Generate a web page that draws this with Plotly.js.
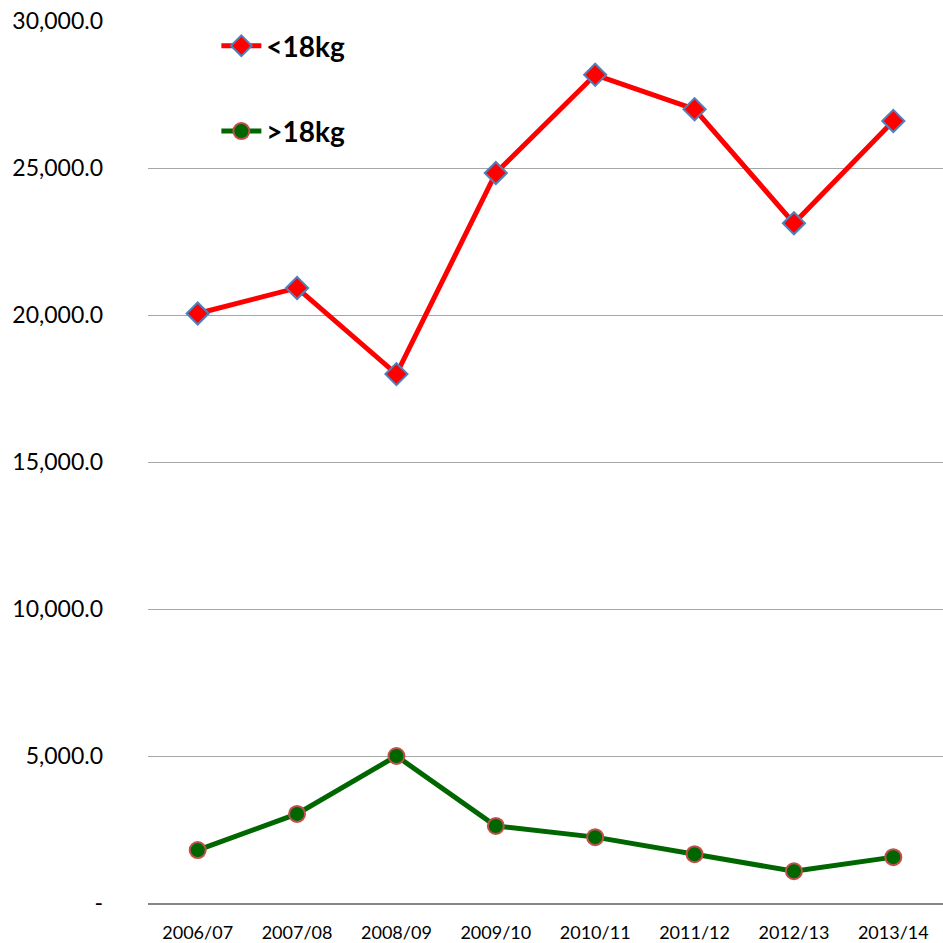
<!DOCTYPE html>
<html>
<head>
<meta charset="utf-8">
<script src="https://cdn.plot.ly/plotly-3.0.1.min.js"></script>
<style>html,body{margin:0;padding:0;background:#fff;}#chart{width:943px;height:943px;}</style>
</head>
<body>
<div id="chart"></div>
<script>
const categories = ["2006/07","2007/08","2008/09","2009/10","2010/11","2011/12","2012/13","2013/14"];
const under18 = [20050, 20920, 17990, 24830, 28170, 27000, 23120, 26600];
const over18 = [1800, 3030, 5000, 2620, 2240, 1660, 1080, 1560];
const seriesNames = ["<18kg", ">18kg"];
const yTickVals = [0, 5000, 10000, 15000, 20000, 25000, 30000];
const yTickText = ["-", "5,000.0", "10,000.0", "15,000.0", "20,000.0", "25,000.0", "30,000.0"];

const font = "Lato, 'Noto Sans', 'Liberation Sans', sans-serif";

const traces = [
  {
    x: categories, y: under18, name: seriesNames[0], type: "scatter", mode: "lines+markers",
    legendgroup: "a",
    line: {color: "#ff0000", width: 5},
    marker: {symbol: "diamond", size: 17, color: "#ff0000", line: {color: "#4f81bd", width: 2}}
  },
  {
    x: categories, y: over18, name: seriesNames[1], type: "scatter", mode: "lines+markers",
    legendgroup: "b",
    line: {color: "#006600", width: 5},
    marker: {symbol: "circle", size: 16, color: "#006600", line: {color: "#c0504d", width: 2}}
  }
];

const layout = {
  width: 943, height: 943,
  margin: {l: 148, r: 0, t: 21, b: 40},
  paper_bgcolor: "#ffffff", plot_bgcolor: "#ffffff",
  font: {family: font, color: "#000000", size: 19},
  showlegend: true,
  legend: {
    x: 0.086, y: 1.0, xanchor: "left", yanchor: "top",
    font: {family: font, size: 28, color: "#000000", weight: "bold"},
    bgcolor: "rgba(0,0,0,0)", tracegroupgap: 46, itemwidth: 40
  },
  xaxis: {
    type: "category", range: [-0.5, 7.5], showgrid: false,
    showline: true, linecolor: "#868686", linewidth: 2,
    ticks: "", tickfont: {family: font, size: 18}, zeroline: false,
    ticklabelstandoff: 12
  },
  yaxis: {
    range: [0, 30000], tickvals: yTickVals, ticktext: yTickText,
    showgrid: true, gridcolor: "#a6a6a6", gridwidth: 1,
    showline: false, zeroline: false, ticks: "",
    tickfont: {family: font, size: 23}, ticklabelstandoff: 44
  }
};

Plotly.newPlot("chart", traces, layout, {displayModeBar: false, staticPlot: true});
</script>
</body>
</html>
